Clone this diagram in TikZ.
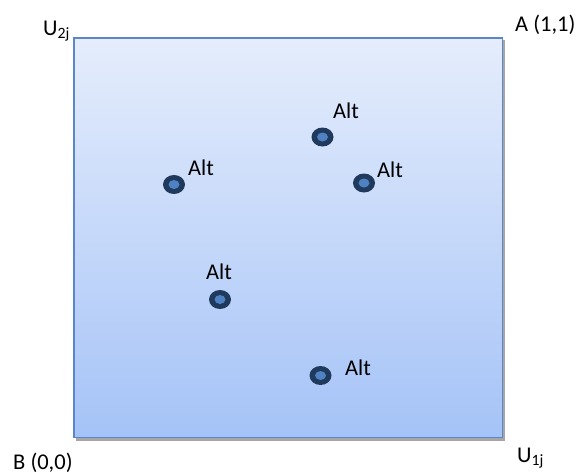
\documentclass[tikz,border=0pt]{standalone}
\usepackage{fontspec}
\setmainfont{Carlito}
\definecolor{edgeblue}{HTML}{5A87C8}
\definecolor{topfill}{HTML}{E5EDFC}
\definecolor{botfill}{HTML}{A5C3F7}
\definecolor{dotdark}{HTML}{1F3A5C}
\definecolor{dotblue}{HTML}{4F82C2}
\tikzset{
  lbl/.style={inner sep=0pt, anchor=base west, font=\fontsize{22.5}{26}\selectfont},
  altdot/.pic={
    \fill[dotdark] (0,0) ellipse [x radius=11, y radius=9.5];
    \fill[dotblue] (0,0) ellipse [x radius=5.5, y radius=4.5];
  }
}
\begin{document}
\begin{tikzpicture}[x=1pt,y=-1pt]
\useasboundingbox (0,0) rectangle (579,475);
% shadow
\fill[gray!70] (76,40) rectangle (505,440.5);
% box
\shade[top color=topfill, bottom color=botfill] (74,38) rectangle (502.5,437.5);
\draw[edgeblue, line width=1.5] (74,38) rectangle (502.5,437.5);
% dots
\pic (d1) at (174,184.5) {altdot};
\pic (d2) at (322.5,137) {altdot};
\pic (d3) at (364,183) {altdot};
\pic (d4) at (220,299.5) {altdot};
\pic (d5) at (320.5,375.5) {altdot};
% labels
\node[lbl] (l1) at (188,175) {Alt};
\node[lbl] (l2) at (333,118) {Alt};
\node[lbl] (l3) at (377,177) {Alt};
\node[lbl] (l4) at (206,279) {Alt};
\node[lbl] (l5) at (345,375) {Alt};
\node[lbl] (u2) at (43,35) {U$_{\mathrm{2j}}$};
\node[lbl] (a) at (515,31) {A (1,1)};
\node[lbl] (b) at (13,469.5) {B (0,0)};
\node[lbl] (u1) at (517,462) {U$_{\mathrm{1j}}$};
\end{tikzpicture}
\end{document}
